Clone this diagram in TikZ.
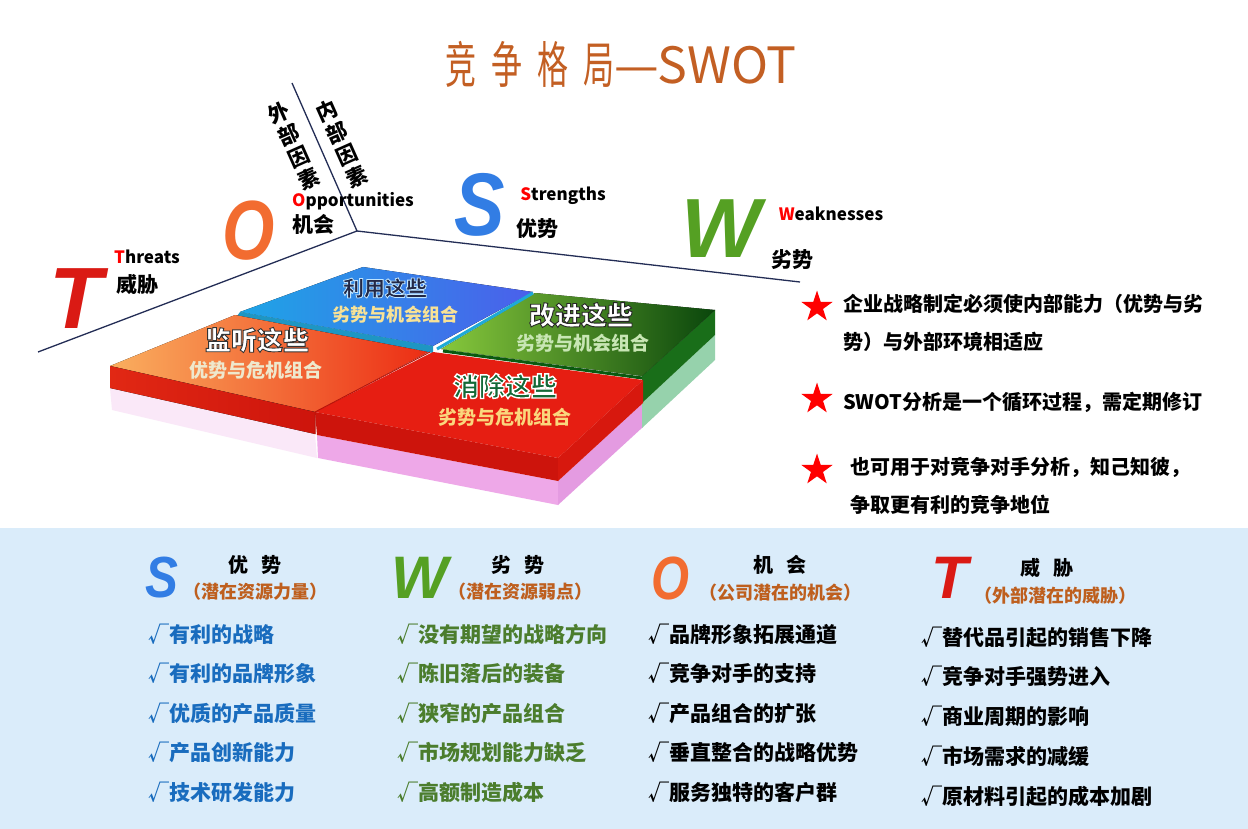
\documentclass[tikz,border=0pt]{standalone}
\usepackage{fontspec}
\setmainfont{Noto Sans CJK SC}
\newfontfamily\letterfont{Liberation Sans}
\usetikzlibrary{shapes.geometric}
\definecolor{titlebrown}{RGB}{195,95,35}
\definecolor{hintbrown}{RGB}{190,95,30}
\definecolor{axisnavy}{RGB}{35,45,85}
\definecolor{bandblue}{RGB}{218,236,250}
\definecolor{sblue}{RGB}{25,108,190}
\definecolor{wgreen}{RGB}{75,125,45}
\definecolor{tred}{RGB}{218,26,20}
\definecolor{oorange}{RGB}{242,108,48}
\definecolor{sbluel}{RGB}{50,125,228}
\definecolor{wgreenl}{RGB}{85,160,35}
\definecolor{paleyellow}{RGB}{248,226,150}
\definecolor{palecream}{RGB}{238,232,205}
\definecolor{palegreen}{RGB}{200,230,180}
\definecolor{softorange}{RGB}{250,215,125}
\definecolor{deepnavy}{RGB}{35,40,70}
\definecolor{leafgreen}{RGB}{20,105,55}
\newcommand\fsz[1]{\fontsize{#1}{#1}\selectfont}
\newcommand\narrow[1]{\scalebox{0.62}[1]{#1}}
% stroke colour (r g b), stroke width, fill colour, text
\newcommand\rim[4]{{\color{#3}\special{pdf:literal direct #1 RG #2 w 2 Tr}#4\special{pdf:literal direct 0 Tr}}}
\tikzset{
title/.style={text=titlebrown,font=\fsz{50},inner sep=0pt},
axisline/.style={draw=axisnavy,line width=1.3pt},
bigletter/.style={font=\letterfont\bfseries\itshape\fsz{#1},inner sep=0pt},
eng/.style={font=\bfseries\fsz{17},inner sep=0pt},
cn/.style={font=\bfseries\fsz{21},inner sep=0pt},
sidechar/.style={font=\bfseries\fsz{21},inner sep=-1pt,rotate=24},
keyword/.style={font=\bfseries\fsz{26},inner sep=0pt},
combo/.style={font=\bfseries\fsz{19},inner sep=0pt},
redstar/.style={star,star points=5,star point ratio=2.6,fill=red,inner sep=0pt,minimum size=33pt},
note/.style={font=\bfseries\fontsize{20}{38}\selectfont,anchor=west,inner sep=0pt,align=left},
head/.style={font=\bfseries\fsz{20},inner sep=0pt},
hint/.style={font=\bfseries\fsz{18},text=hintbrown,inner sep=0pt},
item/.style={font=\bfseries\fsz{21},anchor=west,inner sep=0pt}
}
\begin{document}
\begin{tikzpicture}[x=1pt,y=-1pt]
\useasboundingbox (0,0) rectangle (1248,829);
\fill[white] (0,0) rectangle (1248,829);
\fill[bandblue] (0,528) rectangle (1248,829);
\node[title] (title) at (621,64) {\narrow{竞}\hspace{15pt}\narrow{争}\hspace{15pt}\narrow{格}\hspace{15pt}\narrow{局}—SWOT};
% axes
\coordinate (hub) at (357,231);
\coordinate (tipl) at (38,352);
\coordinate (tipu) at (292,83);
\coordinate (tipr) at (800,282);
\draw[axisline] (tipu) -- (hub) -- (tipl);
\draw[axisline] (hub) -- (tipr);
\foreach \c [count=\i] in {外,部,因,素}
  \node[sidechar] (outer\i) at ({279+9.8*(\i-1)},{113+22*(\i-1)}) {\c};
\foreach \c [count=\i] in {内,部,因,素}
  \node[sidechar] (inner\i) at ({327+9.8*(\i-1)},{111+22*(\i-1)}) {\c};
% slabs
\fill[fill={rgb,255:red,250;green,232;blue,248}] (110,388) -- (315,434) -- (317,458) -- (112,410) -- cycle;
\fill[fill={rgb,255:red,238;green,168;blue,232}] (317,435) -- (558,481) -- (558,505) -- (318,458) -- cycle;
\fill[fill={rgb,255:red,228;green,155;blue,225}] (558,481) -- (643,403) -- (643,427) -- (558,505) -- cycle;
\fill[fill={rgb,255:red,150;green,210;blue,172}] (642,403) -- (715,335) -- (715,360) -- (642,428) -- cycle;
\fill[fill={rgb,255:red,25;green,110;blue,25}] (642,376) -- (715,310) -- (715,335) -- (642,403) -- cycle;
\fill[left color={rgb,255:red,135;green,200;blue,60},right color={rgb,255:red,10;green,70;blue,12}] (441,349) -- (535,293) -- (715,310) -- (642,376) -- cycle;
\draw[line width=3pt,draw={rgb,255:red,10;green,90;blue,15}] (443,351) -- (642,378);
\fill[left color={rgb,255:red,30;green,165;blue,230},right color={rgb,255:red,75;green,95;blue,235}] (240,312) -- (363,267) -- (533,292) -- (433,346) -- cycle;
\fill[fill={rgb,255:red,30;green,150;blue,195}] (240,312) -- (433,346) -- (433,353) -- (237,316) -- cycle;
\draw[line width=3pt,draw={rgb,255:red,30;green,170;blue,215}] (533,293) -- (437,349);
\fill[left color={rgb,255:red,250;green,175;blue,95},right color={rgb,255:red,236;green,45;blue,20}] (110,366) -- (235,315) -- (428,352) -- (315,412) -- cycle;
\fill[left color={rgb,255:red,225;green,40;blue,20},right color={rgb,255:red,205;green,20;blue,12}] (110,366) -- (315,412) -- (315,434) -- (110,388) -- cycle;
\fill[fill={rgb,255:red,230;green,30;blue,18}] (433,352) -- (643,380) -- (558,458) -- (315,412) -- cycle;
\fill[fill={rgb,255:red,205;green,20;blue,12}] (315,412) -- (558,458) -- (558,481) -- (317,435) -- cycle;
\fill[fill={rgb,255:red,215;green,24;blue,14}] (558,458) -- (643,380) -- (643,403) -- (558,481) -- cycle;
\draw[line width=1pt,draw={rgb,255:red,185;green,20;blue,10}] (430,352) -- (315,412) -- (315,434);
% slab texts
\node[keyword,font=\bfseries\fsz{21}] (useit) at (385,288) {\rim{0.75 0.9 1}{0.8}{deepnavy}{利用这些}};
\node[combo,font=\bfseries\fsz{18}] (useitsub) at (395,315) {\textcolor{paleyellow}{劣势与机会组合}};
\node[keyword] (watch) at (257,340) {\rim{0.2 0.2 0.2}{0.9}{white}{监听这些}};
\node[combo] (watchsub) at (256,370) {\textcolor{palecream}{优势与危机组合}};
\node[keyword] (fix) at (581,315) {\rim{0.15 0.15 0.15}{0.9}{white}{改进这些}};
\node[combo] (fixsub) at (583,343) {\textcolor{palegreen}{劣势与机会组合}};
\node[keyword] (clear) at (505,386) {\rim{1 1 1}{1.4}{leafgreen}{消除这些}};
\node[combo] (clearsub) at (505,417) {\textcolor{softorange}{劣势与危机组合}};
% big letters
\node[bigletter=87,text=tred] (bigT) at (76,299) {T};
\node[bigletter=84,xscale=0.8,text=oorange] (bigO) at (249,231) {O};
\node[bigletter=89,xscale=0.85,text=sbluel] (bigS) at (480,205) {S};
\node[bigletter=84,text=wgreenl] (bigW) at (721,229) {W};
\node[eng] (threats) at (147,257) {\textcolor{red}{T}hreats};
\node[cn] (threatscn) at (137,284) {威胁};
\node[eng] (opps) at (353,201) {\textcolor{red}{O}pportunities};
\node[cn] (oppscn) at (313,224) {机会};
\node[eng] (strengths) at (563,196) {\textcolor{red}{S}trengths};
\node[cn] (strengthscn) at (537,229) {优势};
\node[eng] (weak) at (831,214) {\textcolor{red}{W}eaknesses};
\node[cn] (weakcn) at (792,260) {劣势};
% notes
\node[redstar] (star1) at (817,307) {};
\node[redstar] (star2) at (817,399) {};
\node[redstar] (star3) at (817,470) {};
\node[note] (note1) at (843,323) {企业战略制定必须使内部能力（优势与劣\\势）与外部环境相适应};
\node[note] (note2) at (843,402) {SWOT分析是一个循环过程，需定期修订};
\node[note] (note3) at (850,486) {也可用于对竞争对手分析，知己知彼，\\争取更有利的竞争地位};
% bottom columns
\node[bigletter=58,xscale=0.85,text=sbluel] (smallS) at (162,578) {S};
\node[bigletter=60,text=wgreenl] (smallW) at (420,578) {W};
\node[bigletter=61,xscale=0.8,text=oorange] (smallO) at (670,578) {O};
\node[bigletter=60,text=tred] (smallT) at (950,578) {T};
\node[head] (shead) at (255,565) {优\hspace{0.7em}势};
\node[hint] (shint) at (255,592) {（潜在资源力量）};
\node[head] (whead) at (518,565) {劣\hspace{0.7em}势};
\node[hint] (whint) at (520,592) {（潜在资源弱点）};
\node[head] (ohead) at (780,565) {机\hspace{0.7em}会};
\node[hint] (ohint) at (780,593) {（公司潜在的机会）};
\node[head] (thead) at (1047,568) {威\hspace{0.7em}胁};
\node[hint] (thint) at (1055,596) {（外部潜在的威胁）};
\foreach \t [count=\i] in {有利的战略,有利的品牌形象,优质的产品质量,产品创新能力,技术研发能力}
  \node[item,text=sblue] (s\i) at (148,{634+39.5*(\i-1)}) {√\t};
\foreach \t [count=\i] in {没有期望的战略方向,陈旧落后的装备,狭窄的产品组合,市场规划能力缺乏,高额制造成本}
  \node[item,text=wgreen] (w\i) at (397,{634+39.5*(\i-1)}) {√\t};
\foreach \t [count=\i] in {品牌形象拓展通道,竞争对手的支持,产品组合的扩张,垂直整合的战略优势,服务独特的客户群}
  \node[item] (o\i) at (648,{634+39.5*(\i-1)}) {√\t};
\foreach \t [count=\i] in {替代品引起的销售下降,竞争对手强势进入,商业周期的影响,市场需求的减缓,原材料引起的成本加剧}
  \node[item] (t\i) at (921,{637+39.75*(\i-1)}) {√\t};
\end{tikzpicture}
\end{document}
